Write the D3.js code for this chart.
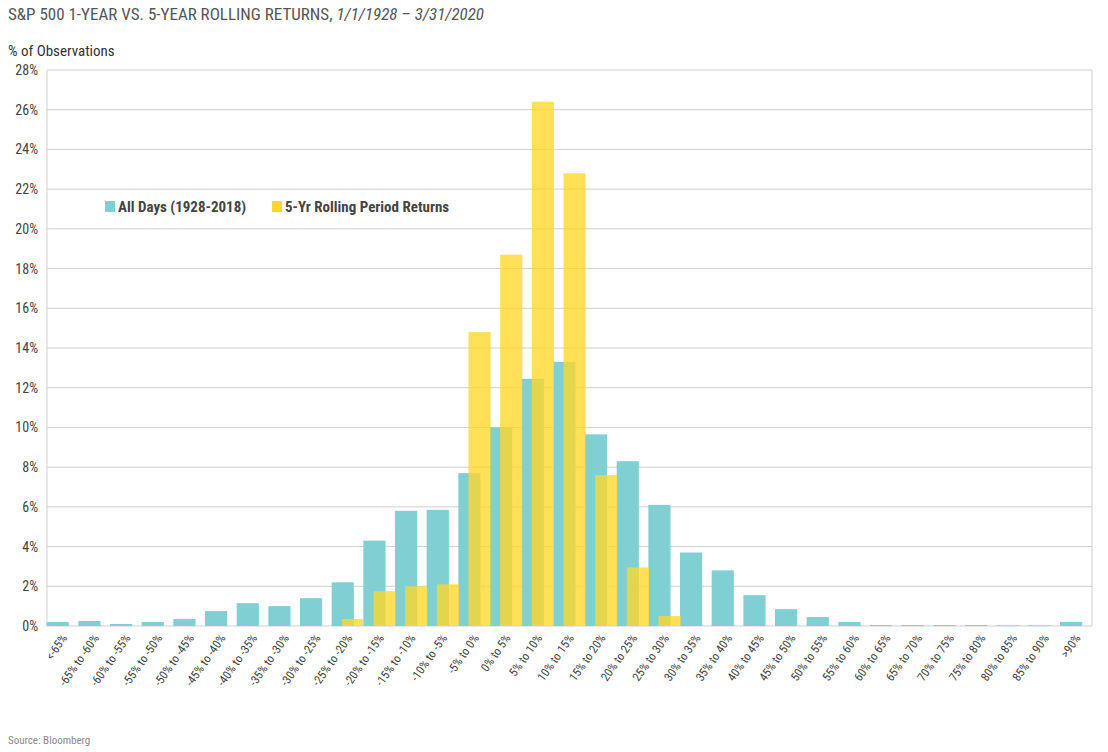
<!DOCTYPE html>
<html><head><meta charset="utf-8">
<script src="https://cdn.jsdelivr.net/npm/d3@7"></script>
<style>body{margin:0;background:#fff;font-family:"Liberation Sans Narrow","Roboto Condensed","Liberation Sans",sans-serif;}</style>
</head><body><div id="chart"></div>
<script>
// categories and values
var categories = ["<-65%","-65% to -60%","-60% to -55%","-55% to -50%","-50% to -45%","-45% to -40%","-40% to -35%","-35% to -30%","-30% to -25%","-25% to -20%","-20% to -15%","-15% to -10%","-10% to -5%","-5% to 0%","0% to 5%","5% to 10%","10% to 15%","15% to 20%","20% to 25%","25% to 30%","30% to 35%","35% to 40%","40% to 45%","45% to 50%","50% to 55%","55% to 60%","60% to 65%","65% to 70%","70% to 75%","75% to 80%","80% to 85%","85% to 90%",">90%"];
var allDays = [0.2,0.25,0.1,0.2,0.35,0.75,1.15,1.0,1.4,2.2,4.3,5.8,5.85,7.7,10.0,12.45,13.3,9.65,8.3,6.1,3.7,2.8,1.55,0.85,0.45,0.2,0.05,0.05,0.05,0.05,0.03,0.03,0.2];
var rolling5 = [0,0,0,0,0,0,0,0,0,0.35,1.75,2.0,2.1,14.8,18.7,26.4,22.8,7.6,2.95,0.5,0,0,0,0,0,0,0,0,0,0,0,0,0];
var yTicks = [0,2,4,6,8,10,12,14,16,18,20,22,24,26,28];

var W = 1108, H = 752;
var margin = {top: 70, right: 16, bottom: 126, left: 47};
var width = W - margin.left - margin.right, height = H - margin.top - margin.bottom;

var root = d3.select("#chart").append("svg").attr("width", W).attr("height", H);
var svg = root.append("g").attr("transform", "translate(" + margin.left + "," + margin.top + ")");

var x = d3.scaleBand().domain(categories).range([0, width]);
var y = d3.scaleLinear().domain([0, 28]).range([height, 0]);

// gridlines
svg.selectAll(".grid").data(yTicks).enter().append("line")
    .attr("x1", 0).attr("x2", width)
    .attr("y1", function (d) { return y(d) }).attr("y2", function (d) { return y(d) })
    .attr("stroke", "#cfcfcf").attr("stroke-width", 1);
svg.append("line").attr("x1", width).attr("x2", width).attr("y1", 0).attr("y2", height).attr("stroke", "#cfcfcf");
svg.append("line").attr("x1", 0).attr("x2", 0).attr("y1", 0).attr("y2", height).attr("stroke", "#cfcfcf");

var bw = x.bandwidth() * 0.7, off = x.bandwidth() * 0.32;
svg.selectAll(".teal").data(allDays).enter().append("rect")
    .attr("x", function (d, i) { return x(categories[i]) + x.bandwidth() / 2 - bw / 2 - off / 2 })
    .attr("y", function (d) { return y(d) })
    .attr("width", bw).attr("height", function (d) { return height - y(d) })
    .attr("fill", "#7fcfd3");
svg.selectAll(".yel").data(rolling5).enter().append("rect")
    .attr("x", function (d, i) { return x(categories[i]) + x.bandwidth() / 2 - bw / 2 + off / 2 })
    .attr("y", function (d) { return y(d) })
    .attr("width", bw).attr("height", function (d) { return height - y(d) })
    .attr("fill", "#ffd728").attr("fill-opacity", 0.78);

// y axis labels
svg.selectAll(".yl").data(yTicks).enter().append("text")
    .attr("x", -9).attr("y", function (d) { return y(d) + 5 })
    .attr("text-anchor", "end").attr("font-size", 14).attr("fill", "#444")
    .text(function (d) { return d + "%" });

// x axis labels
svg.selectAll(".xl").data(categories).enter().append("text")
    .attr("transform", function (d) { return "translate(" + (x(d) + x.bandwidth() / 2 + 5) + "," + (height + 12) + ") rotate(-55)" })
    .attr("text-anchor", "end").attr("font-size", 12).attr("fill", "#444")
    .text(function (d) { return d });

// legend
var lg = svg.append("g").attr("transform", "translate(58,137)");
lg.append("rect").attr("x", 0).attr("y", -6).attr("width", 10).attr("height", 11).attr("fill", "#7fcfd3");
lg.append("text").attr("x", 13).attr("y", 5).attr("font-size", 15).attr("font-weight", "bold").attr("fill", "#444").text("All Days (1928-2018)");
lg.append("rect").attr("x", 167).attr("y", -6).attr("width", 10).attr("height", 11).attr("fill", "#ffd728");
lg.append("text").attr("x", 180).attr("y", 5).attr("font-size", 15).attr("font-weight", "bold").attr("fill", "#444").text("5-Yr Rolling Period Returns");

// titles
var t = root.append("text").attr("x", 8).attr("y", 20).attr("font-size", 17).attr("fill", "#555");
t.append("tspan").text("S&P 500 1-YEAR VS. 5-YEAR ROLLING RETURNS, ");
t.append("tspan").attr("font-style", "italic").text("1/1/1928 \u2013 3/31/2020");
root.append("text").attr("x", 8).attr("y", 56).attr("font-size", 15).attr("fill", "#333").text("% of Observations");
root.append("text").attr("x", 8).attr("y", 744).attr("font-size", 11).attr("fill", "#888").text("Source: Bloomberg");
</script></body></html>
